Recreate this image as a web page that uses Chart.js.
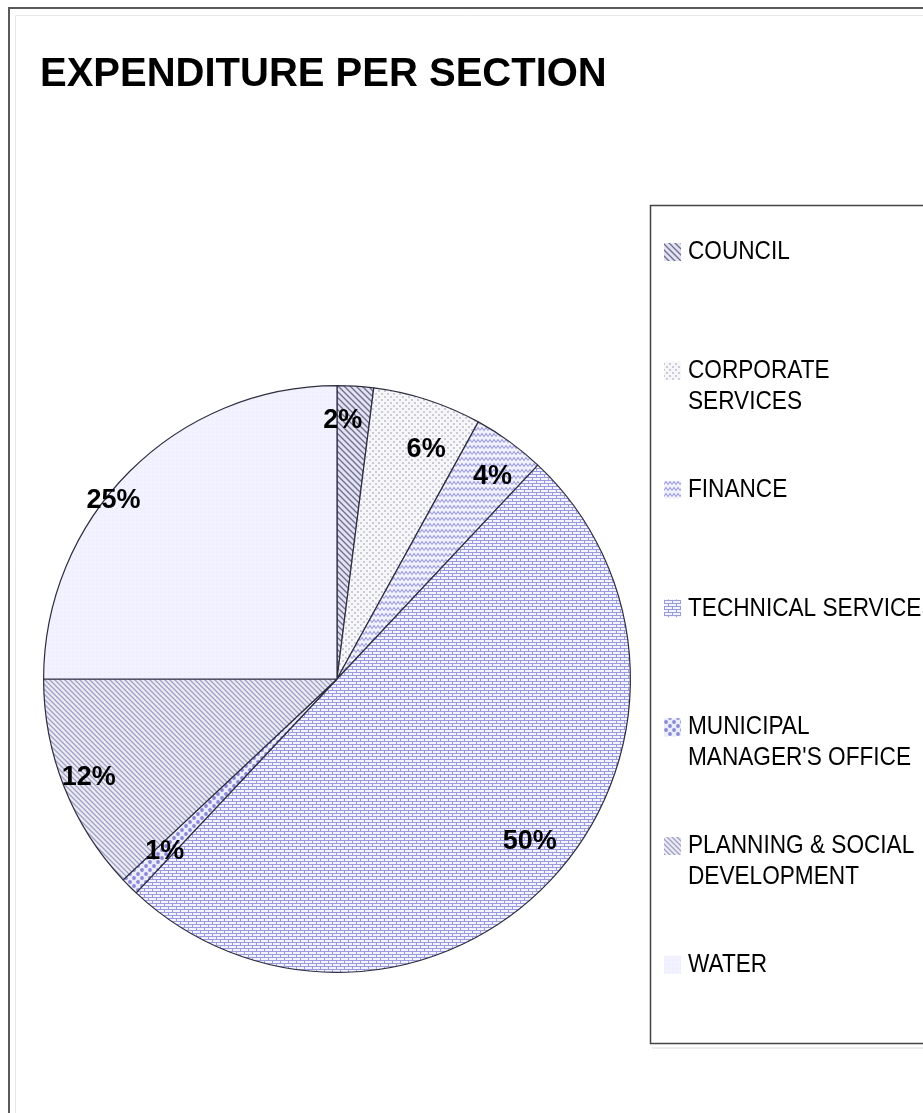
<!DOCTYPE html>
<html>
<head>
<meta charset="utf-8">
<title>Expenditure per section</title>
<script src="https://cdn.jsdelivr.net/npm/chart.js"></script>
<style>
  html, body { margin: 0; padding: 0; background: #fff; }
  #wrap { width: 923px; height: 1113px; }
</style>
</head>
<body>
<div id="wrap"><canvas id="pie" width="923" height="1113"></canvas></div>
<script>
// sections and their share of total expenditure (%)
const sections = ['COUNCIL', 'CORPORATE SERVICES', 'FINANCE', 'TECHNICAL SERVICES',
  "MUNICIPAL MANAGER'S OFFICE", 'PLANNING & SOCIAL DEVELOPMENT', 'WATER'];
const shares = [2, 6, 4, 50, 1, 12, 25];
// how the names wrap inside the legend box
const legendLines = [['COUNCIL'], ['CORPORATE', 'SERVICES'], ['FINANCE'], ['TECHNICAL SERVICES'],
  ['MUNICIPAL', "MANAGER'S OFFICE"], ['PLANNING & SOCIAL', 'DEVELOPMENT'], ['WATER']];

const FONT = "'Liberation Sans', Arial, sans-serif";

// --- fill patterns ---
function tile(w, h, paint) {
  const c = document.createElement('canvas');
  c.width = w; c.height = h;
  const g = c.getContext('2d');
  paint(g, w, h);
  return g.createPattern(c, 'repeat');
}

function hatch(g, w, h, bg, fg, lw) {
  g.fillStyle = bg; g.fillRect(0, 0, w, h);
  g.strokeStyle = fg; g.lineWidth = lw;
  g.beginPath();
  g.moveTo(-1, -1); g.lineTo(w + 1, h + 1);
  g.moveTo(-1, h - 1); g.lineTo(1, h + 1);
  g.moveTo(w - 1, -1); g.lineTo(w + 1, 1);
  g.stroke();
}

const patterns = [
  // council: dark diagonal hatch
  tile(6, 6, (g, w, h) => hatch(g, w, h, '#e2e2f2', '#6c6c8c', 1.3)),
  // corporate services: faint dots
  tile(6, 6, (g, w, h) => {
    g.fillStyle = '#f7f7fa'; g.fillRect(0, 0, w, h);
    g.fillStyle = '#cacad8';
    g.fillRect(0, 0, 2, 2); g.fillRect(3, 3, 2, 2);
  }),
  // finance: zigzag
  tile(8, 6, (g, w, h) => {
    g.fillStyle = '#f3f3ff'; g.fillRect(0, 0, w, h);
    g.strokeStyle = '#a2a2e0'; g.lineWidth = 1.2;
    g.beginPath();
    g.moveTo(0, 4.5); g.lineTo(2, 1.5); g.lineTo(4, 4.5); g.lineTo(6, 1.5); g.lineTo(8, 4.5);
    g.stroke();
  }),
  // technical services: brick grid
  tile(8, 6, (g, w, h) => {
    g.fillStyle = '#f4f4ff'; g.fillRect(0, 0, w, h);
    g.fillStyle = '#9a9ae0';
    g.fillRect(0, 0, w, 1);
    g.fillRect(0, 3, w, 1);
    g.fillRect(0, 0, 1, 3);
    g.fillRect(4, 3, 1, 3);
  }),
  // municipal manager's office: large dots
  tile(8, 8, (g, w, h) => {
    g.fillStyle = '#ececff'; g.fillRect(0, 0, w, h);
    g.fillStyle = '#8888d4';
    g.beginPath(); g.arc(2, 2, 1.9, 0, Math.PI * 2); g.fill();
    g.beginPath(); g.arc(6, 6, 1.9, 0, Math.PI * 2); g.fill();
  }),
  // planning & social development: light diagonal hatch
  tile(5, 5, (g, w, h) => hatch(g, w, h, '#ececf6', '#a0a0c4', 1.3)),
  // water: almost plain lavender
  tile(4, 4, (g, w, h) => {
    g.fillStyle = '#f1f1ff'; g.fillRect(0, 0, w, h);
    g.fillStyle = '#e9e9fa'; g.fillRect(0, 0, 1, 1);
  })
];

// label distance from centre (fraction of radius) and a small turn off the slice middle (degrees)
const labelRadius = [0.88, 0.84, 0.87, 0.86, 0.83, 0.91, 0.975];
const labelTurn = [-2.3, 3.2, 1.5, -3, 0, 0, -6.4];

const percentLabels = {
  id: 'percentLabels',
  afterDatasetsDraw(chart) {
    const ctx = chart.ctx;
    const arcs = chart.getDatasetMeta(0).data;
    ctx.save();
    ctx.font = 'bold 27px ' + FONT;
    ctx.fillStyle = '#000';
    ctx.textAlign = 'center';
    ctx.textBaseline = 'middle';
    arcs.forEach((arc, i) => {
      const p = arc.getProps(['x', 'y', 'startAngle', 'endAngle', 'outerRadius'], true);
      const mid = (p.startAngle + p.endAngle) / 2 + labelTurn[i] * Math.PI / 180;
      const r = p.outerRadius * labelRadius[i];
      ctx.fillText(shares[i] + '%', p.x + Math.cos(mid) * r, p.y + Math.sin(mid) * r);
    });
    ctx.restore();
  }
};

// frame around the chart and the boxed legend on the right
const frameAndLegend = {
  id: 'frameAndLegend',
  afterDraw(chart) {
    const ctx = chart.ctx;
    ctx.save();
    // outer frame
    ctx.strokeStyle = '#e8e8e8'; ctx.lineWidth = 1;
    ctx.beginPath(); ctx.moveTo(15.5, 1113); ctx.lineTo(15.5, 15.5); ctx.lineTo(923, 15.5); ctx.stroke();
    ctx.strokeStyle = '#5a5a5a'; ctx.lineWidth = 2;
    ctx.beginPath(); ctx.moveTo(9, 1113); ctx.lineTo(9, 8); ctx.lineTo(923, 8); ctx.stroke();

    // legend box
    ctx.strokeStyle = '#ececec'; ctx.lineWidth = 2;
    ctx.beginPath(); ctx.moveTo(652, 1048); ctx.lineTo(923, 1048); ctx.stroke();
    ctx.strokeStyle = '#444'; ctx.lineWidth = 1.5;
    ctx.strokeRect(650.5, 205.5, 400, 838);

    ctx.font = '26px ' + FONT;
    ctx.textAlign = 'left';
    ctx.textBaseline = 'middle';
    legendLines.forEach((lines, i) => {
      const y = 252 + i * 118.8;
      ctx.fillStyle = patterns[i];
      ctx.fillRect(664, y - 9, 17, 18);
      ctx.fillStyle = '#000';
      lines.forEach((t, k) => {
        // the legend type is set slightly narrow
        ctx.save();
        ctx.translate(688, y + k * 31);
        ctx.scale(0.87, 1);
        ctx.fillText(t, 0, 0);
        ctx.restore();
      });
    });
    ctx.restore();
  }
};

new Chart(document.getElementById('pie'), {
  type: 'pie',
  data: {
    labels: sections,
    datasets: [{
      data: shares,
      backgroundColor: patterns,
      borderColor: '#2e2e40',
      borderWidth: 1.2
    }]
  },
  options: {
    responsive: false,
    animation: false,
    devicePixelRatio: 1,
    layout: { padding: { left: 40, right: 289, top: 0, bottom: 140 } },
    plugins: {
      legend: { display: false },
      tooltip: { enabled: false },
      title: {
        display: true,
        text: 'EXPENDITURE PER SECTION',
        align: 'start',
        color: '#000',
        font: { family: FONT, size: 40, weight: 'bold', lineHeight: 1.2 },
        padding: { top: 51, bottom: 286 }
      }
    }
  },
  plugins: [percentLabels, frameAndLegend]
});
</script>
</body>
</html>
